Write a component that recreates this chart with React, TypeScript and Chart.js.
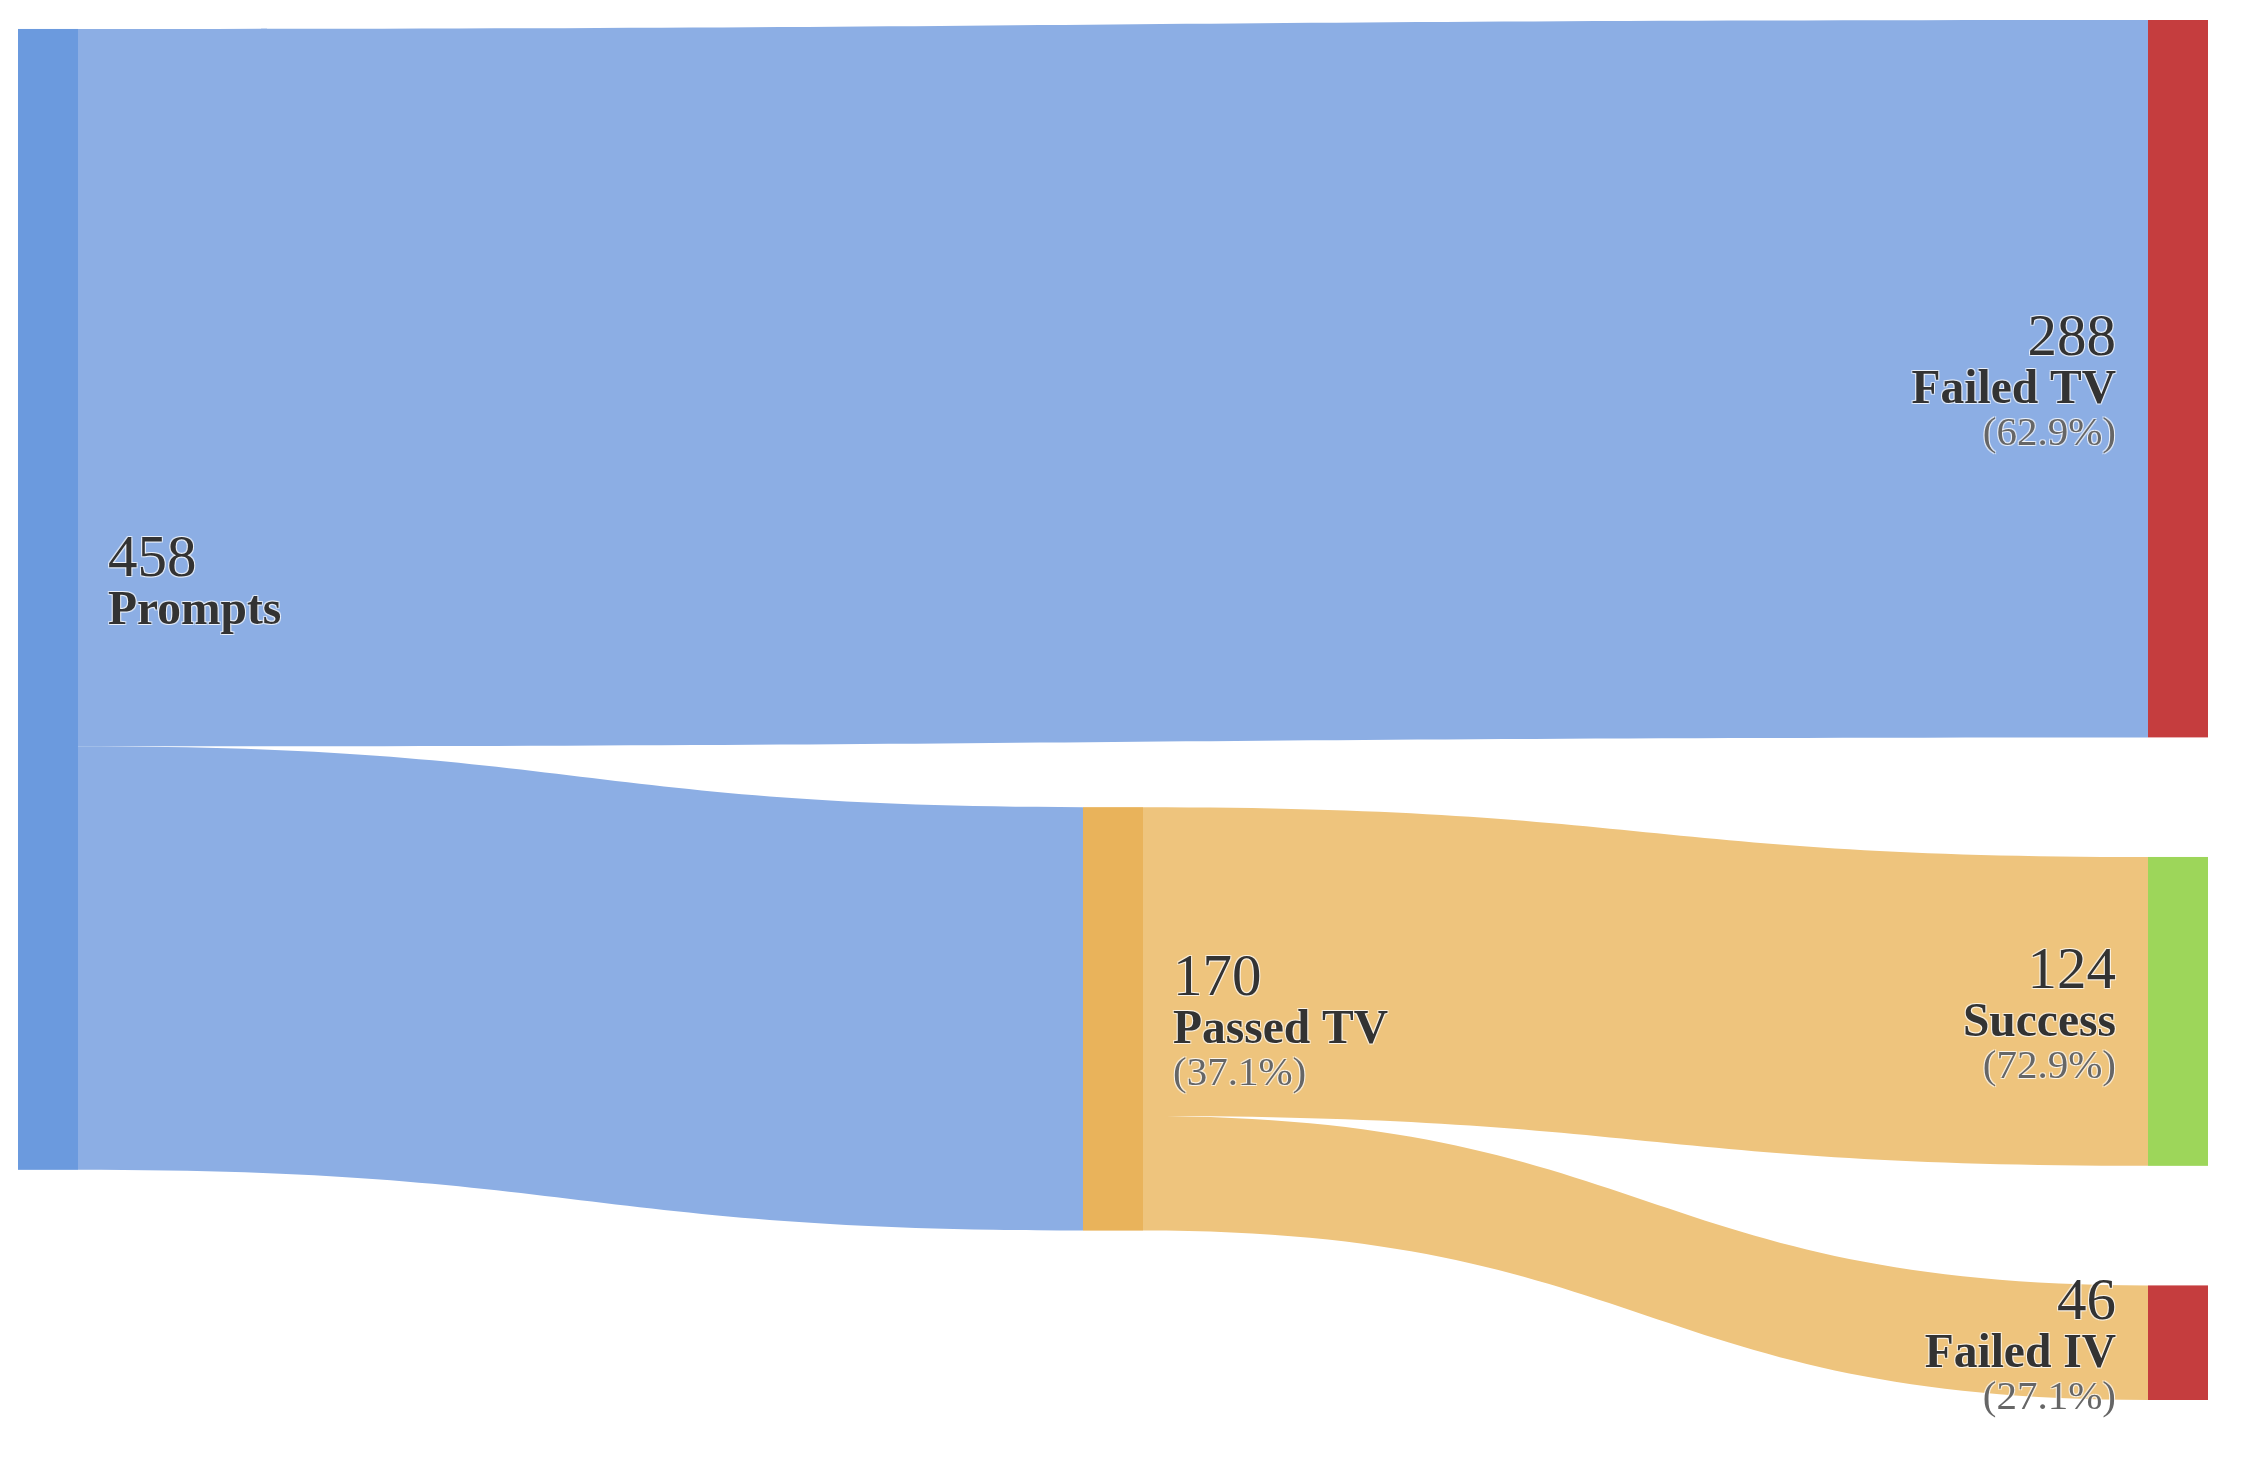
import React, { useEffect, useRef } from "react";
import { Chart, registerables } from "chart.js";

Chart.register(...registerables);

// ---- data ----
const nodeNames = ["Prompts", "Passed TV", "Failed TV", "Success", "Failed IV"];
const nodeColumns = [0, 1, 2, 2, 2];
const nodeColors = ["#6b9ade", "#e9b35b", "#c53d3e", "#9dd65a", "#c53d3e"];
const linkSources = ["Prompts", "Prompts", "Passed TV", "Passed TV"];
const linkTargets = ["Failed TV", "Passed TV", "Success", "Failed IV"];
const linkValues = [288, 170, 124, 46];
const linkColors = ["#8caee4", "#8caee4", "#eec47d", "#eec47d"];

type Node = {
  name: string;
  col: number;
  color: string;
  value: number;
  y0: number;
  y1: number;
  inLinks: number[];
  outLinks: number[];
};

const sankeyPlugin = {
  id: "sankeyDraw",
  afterDatasetsDraw(chart: any, _args: any, opts: any) {
    const ctx: CanvasRenderingContext2D = chart.ctx;
    const xs = chart.scales.x;
    const ys = chart.scales.y;
    const nodeW: number = opts.nodeWidthPx;
    const gap: number = opts.nodeGap;
    const tops: Record<string, number> = opts.nodeTops;

    const nodes: Node[] = nodeNames.map((n, i) => ({
      name: n,
      col: nodeColumns[i],
      color: nodeColors[i],
      value: 0,
      y0: 0,
      y1: 0,
      inLinks: [],
      outLinks: [],
    }));
    const idx = (n: string) => nodeNames.indexOf(n);
    linkValues.forEach((v, i) => {
      nodes[idx(linkSources[i])].outLinks.push(i);
      nodes[idx(linkTargets[i])].inLinks.push(i);
    });
    nodes.forEach((nd) => {
      const vin = nd.inLinks.reduce((s, l) => s + linkValues[l], 0);
      const vout = nd.outLinks.reduce((s, l) => s + linkValues[l], 0);
      nd.value = Math.max(vin, vout);
    });
    // vertical layout (value units)
    const stackPos: Record<number, number> = {};
    nodes.forEach((nd) => {
      if (tops[nd.name] !== undefined) {
        nd.y0 = tops[nd.name];
      } else {
        const p = stackPos[nd.col] ?? 0;
        nd.y0 = p;
        stackPos[nd.col] = p + nd.value + gap;
      }
      nd.y1 = nd.y0 + nd.value;
    });

    const px = (nd: Node) => xs.getPixelForValue(nd.col);
    const py = (v: number) => ys.getPixelForValue(v);

    // links
    const outOff: number[] = nodes.map(() => 0);
    const inOff: number[] = nodes.map(() => 0);
    linkValues.forEach((v, i) => {
      const si = idx(linkSources[i]);
      const ti = idx(linkTargets[i]);
      const s = nodes[si];
      const t = nodes[ti];
      const sy0 = py(s.y0 + outOff[si]);
      const sy1 = py(s.y0 + outOff[si] + v);
      const ty0 = py(t.y0 + inOff[ti]);
      const ty1 = py(t.y0 + inOff[ti] + v);
      outOff[si] += v;
      inOff[ti] += v;
      const x1 = px(s) + nodeW;
      const x0 = px(t);
      const xm = (x0 + x1) / 2;
      ctx.save();
      ctx.beginPath();
      ctx.moveTo(x1, sy0);
      ctx.bezierCurveTo(xm, sy0, xm, ty0, x0, ty0);
      ctx.lineTo(x0, ty1);
      ctx.bezierCurveTo(xm, ty1, xm, sy1, x1, sy1);
      ctx.closePath();
      ctx.fillStyle = linkColors[i];
      ctx.fill();
      ctx.restore();
    });

    // nodes
    nodes.forEach((nd) => {
      ctx.save();
      ctx.fillStyle = nd.color;
      const top = py(nd.y0);
      const bot = py(nd.y1);
      ctx.fillRect(px(nd), top, nodeW, bot - top);
      ctx.restore();
    });

    // labels
    const drawText = (txt: string, x: number, y: number, font: string, color: string, align: CanvasTextAlign) => {
      ctx.save();
      ctx.font = font;
      ctx.textAlign = align;
      ctx.textBaseline = "alphabetic";
      ctx.fillStyle = "rgba(255,255,255,0.6)";
      for (const [dx, dy] of [[1, 1], [-1, -1], [1, -1], [-1, 1]]) {
        ctx.fillText(txt, x + dx, y + dy);
      }
      ctx.fillStyle = color;
      ctx.fillText(txt, x, y);
      ctx.restore();
    };
    const fam = '"Liberation Serif", "Times New Roman", serif';
    nodes.forEach((nd) => {
      const isRight = nd.col === 2;
      const x = isRight ? px(nd) - 32 : px(nd) + nodeW + 30;
      const align: CanvasTextAlign = isRight ? "right" : "left";
      const c = (py(nd.y0) + py(nd.y1)) / 2;
      drawText(String(nd.value), x, c - 23.5, `59px ${fam}`, "#333333", align);
      drawText(nd.name, x, c + 24.5, `bold 47.5px ${fam}`, "#333333", align);
      if (nd.inLinks.length === 1) {
        const src = nodes[idx(linkSources[nd.inLinks[0]])];
        const pct = ((nd.value / src.value) * 100).toFixed(1) + "%";
        drawText(`(${pct})`, x, c + 66.5, `41px ${fam}`, "#666666", align);
      }
    });
  },
};

export default function App() {
  const canvasRef = useRef<HTMLCanvasElement | null>(null);

  useEffect(() => {
    document.body.style.margin = "0";
    document.body.style.overflow = "hidden";
    const canvas = canvasRef.current;
    if (!canvas) return;
    const chart = new Chart(canvas, {
      type: "scatter",
      data: { datasets: [{ data: [] }] },
      options: {
        animation: false,
        responsive: true,
        maintainAspectRatio: false,
        layout: { padding: { left: 18, right: 110, top: 20, bottom: 62 } },
        scales: {
          x: { type: "linear", min: 0, max: 2, display: false },
          y: { type: "linear", min: 0, max: 554, reverse: true, display: false },
        },
        plugins: {
          legend: { display: false },
          tooltip: { enabled: false },
          sankeyDraw: {
            nodeWidthPx: 60,
            nodeGap: 48,
            nodeTops: { Prompts: 3.6, "Passed TV": 316 },
          },
        } as any,
      },
      plugins: [sankeyPlugin],
    });
    return () => chart.destroy();
  }, []);

  return (
    <div style={{ position: "relative", width: "2258px", height: "1462px", background: "#ffffff" }}>
      <canvas ref={canvasRef} />
    </div>
  );
}
